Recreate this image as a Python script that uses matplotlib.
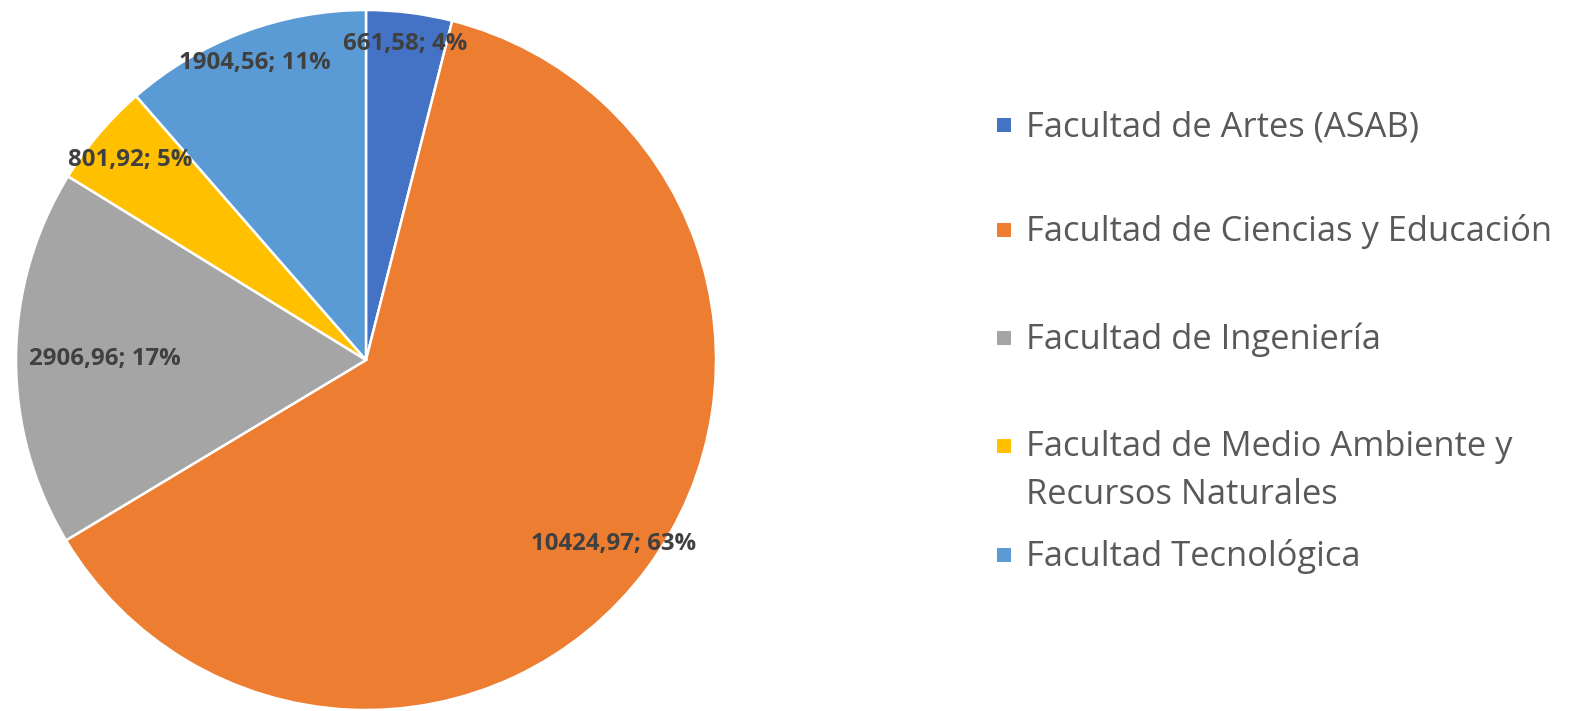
import numpy as np
import matplotlib
matplotlib.use('Agg')
import matplotlib.pyplot as plt
from matplotlib.patches import Rectangle

# data
facultades = ['Facultad de Artes (ASAB)',
              'Facultad de Ciencias y Educación',
              'Facultad de Ingeniería',
              'Facultad de Medio Ambiente y\nRecursos Naturales',
              'Facultad Tecnológica']
valores = [661.58, 10424.97, 2906.96, 801.92, 1904.56]
porcentajes = [4, 63, 17, 5, 11]
colores = ['#4472C4', '#ED7D31', '#A5A5A5', '#FFC000', '#5B9BD5']

# label distance from centre (fraction of radius), one per slice
label_r = [0.91, 0.88, 0.745, 0.885, 0.905]

W, H = 1575, 711
fig = plt.figure(figsize=(W / 100, H / 100), dpi=100)

# pie centre (366, 360) px, radius 350 px
cx, cy, R = 366, 360, 350
ax = fig.add_axes([(cx - R) / W, (H - cy - R) / H, 2 * R / W, 2 * R / H])
wedges, _ = ax.pie(valores, colors=colores, startangle=90, counterclock=False,
                   radius=1, wedgeprops=dict(edgecolor='white', linewidth=1.8))
ax.set_xlim(-1, 1)
ax.set_ylim(-1, 1)
ax.set_aspect('equal')
ax.axis('off')

for w, v, p, r in zip(wedges, valores, porcentajes, label_r):
    ang = np.deg2rad((w.theta1 + w.theta2) / 2)
    txt = '%s; %d%%' % (('%.2f' % v).replace('.', ','), p)
    ax.text(r * np.cos(ang), r * np.sin(ang), txt, ha='center', va='center',
            fontsize=17.3, fontweight='bold', color='#404040',
            family=['Open Sans', 'DejaVu Sans'])

# legend drawn by hand (Excel-like uneven spacing)
leg_y = [127, 231.5, 340, 447.5, 557]   # centre of first text line, px
line_step = 48
for lab, col, y in zip(facultades, colores, leg_y):
    fig.patches.append(Rectangle((997 / W, 1 - (y + 5) / H), 14 / W, 14 / H,
                                 transform=fig.transFigure, facecolor=col,
                                 edgecolor='none'))
    for k, line in enumerate(lab.split('\n')):
        fig.text(1026 / W, 1 - (y + k * line_step) / H, line,
                 ha='left', va='center', fontsize=24.8, color='#595959',
                 family=['Open Sans', 'DejaVu Sans'])

fig.savefig('out.png', dpi=100, facecolor='white')
